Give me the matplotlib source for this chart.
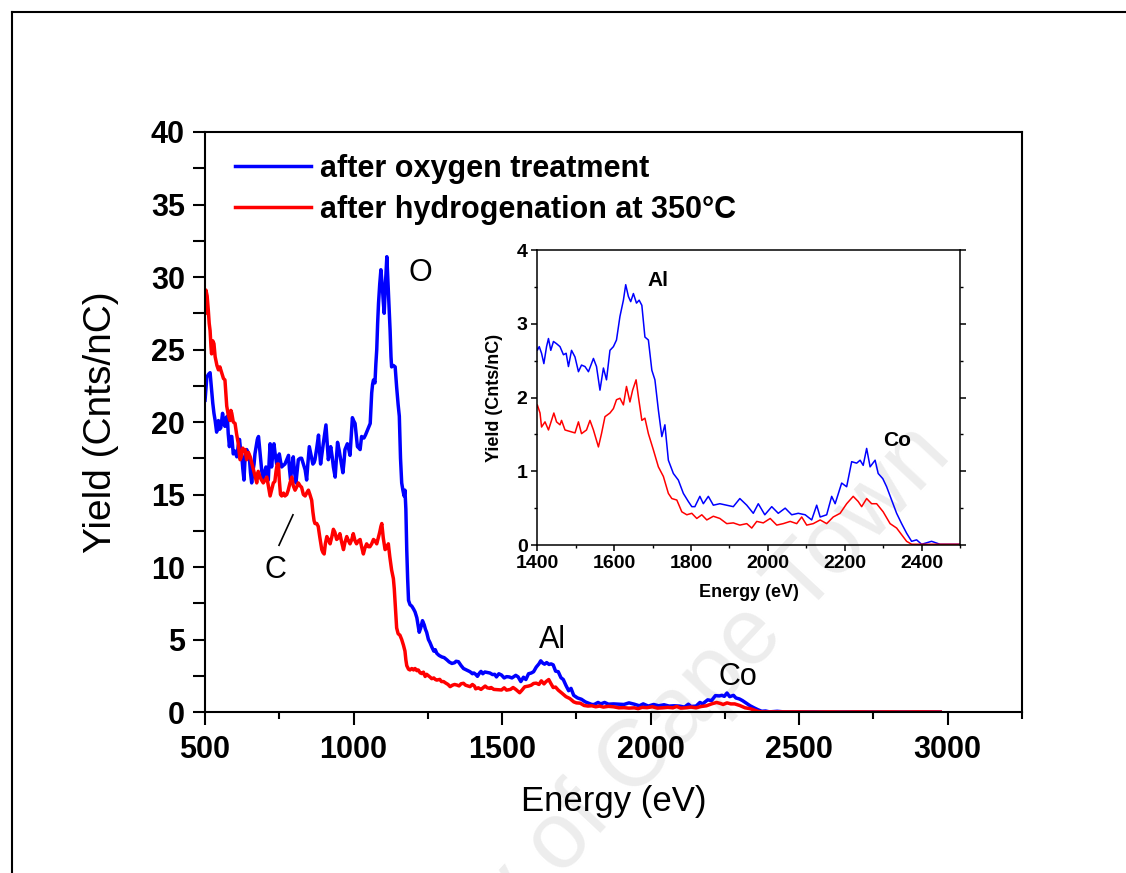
import matplotlib
matplotlib.use("Agg")
import matplotlib.pyplot as plt
from matplotlib.lines import Line2D
from matplotlib.ticker import MultipleLocator

plt.rcParams['font.family'] = ['Liberation Sans', 'DejaVu Sans']

# after oxygen treatment (blue)
e_oxy = [500, 506, 512, 517, 522, 526, 530, 534, 539, 545, 549, 553, 559, 563, 567, 571, 575, 578, 582, 586,
         590, 595, 600, 607, 612, 616, 620, 623, 627, 631, 635, 640, 645, 649, 653, 657, 661, 665, 668, 672,
         676, 680, 684, 687, 691, 696, 700, 705, 709, 713, 716, 719, 722, 724, 728, 732, 736, 741, 745, 750,
         754, 758, 763, 769, 775, 781, 784, 788, 792, 797, 801, 806, 810, 814, 820, 825, 831, 837, 842, 846,
         851, 857, 863, 867, 870, 876, 882, 885, 889, 894, 898, 903, 907, 911, 915, 919, 923, 928, 932, 938,
         942, 946, 951, 955, 960, 964, 968, 971, 975, 979, 984, 988, 992, 996, 1000, 1005, 1009, 1013, 1018, 1022,
         1027, 1031, 1035, 1040, 1044, 1050, 1056, 1061, 1064, 1067, 1072, 1075, 1078, 1081, 1084, 1088, 1092, 1097, 1100, 1103,
         1108, 1112, 1115, 1117, 1120, 1123, 1126, 1128, 1134, 1140, 1145, 1150, 1154, 1158, 1162, 1166, 1170, 1173, 1176, 1179,
         1182, 1185, 1190, 1196, 1202, 1207, 1213, 1217, 1221, 1226, 1232, 1238, 1242, 1246, 1252, 1257, 1263, 1270, 1275, 1280,
         1288, 1297, 1305, 1314, 1322, 1331, 1340, 1345, 1353, 1362, 1370, 1380, 1392,
         1400, 1405, 1411, 1417, 1424, 1429, 1435, 1442, 1450, 1459, 1468, 1475, 1481, 1489, 1498, 1507, 1515, 1524, 1533, 1546,
         1554, 1563, 1572, 1580, 1589, 1598, 1606, 1615, 1624, 1630, 1637, 1643, 1650, 1658, 1665, 1672, 1680, 1689, 1698, 1706,
         1715, 1724, 1732, 1741, 1754, 1767, 1780, 1793, 1802, 1810, 1823, 1832, 1845, 1858, 1875, 1893, 1910, 1927, 1945, 1962,
         1975, 1992, 2010, 2027, 2045, 2062, 2079, 2097, 2114, 2127, 2136, 2153, 2166, 2175, 2192, 2205, 2218, 2231, 2240, 2248,
         2257, 2266, 2279, 2287, 2299, 2309, 2322, 2335, 2348, 2361, 2374, 2387, 2400, 2426, 2448, 2500,
         2550, 2600, 2700, 2800, 2900, 2975]
y_oxy = [21.5, 23.1, 23.3, 23.4, 22.2, 21.3, 20.6, 20.1, 19.3, 20.1, 19.5, 19.6, 20.6, 19.9, 19.7, 20.3, 20.4, 19.2, 18.3, 19.0,
         19.0, 17.8, 18.0, 17.6, 18.4, 18.8, 18.0, 17.8, 16.8, 16.0, 17.6, 18.1, 17.9, 17.6, 16.5, 15.8, 16.6, 17.1, 17.8, 18.3,
         18.8, 19.0, 18.1, 17.4, 16.6, 16.0, 16.5, 16.9, 16.5, 16.0, 17.4, 18.5, 17.6, 16.9, 17.8, 18.5, 17.8, 17.1, 17.4, 17.8,
         17.3, 16.9, 17.0, 17.1, 17.4, 17.7, 16.8, 16.0, 16.9, 17.6, 16.6, 15.8, 16.6, 17.4, 17.5, 17.5, 17.1, 16.7, 16.0, 17.1,
         18.3, 17.7, 17.1, 17.2, 17.4, 18.2, 19.1, 18.1, 17.1, 17.9, 18.5, 19.2, 19.8, 18.6, 17.4, 17.8, 18.3, 17.6, 16.9, 16.2,
         17.4, 18.6, 18.1, 17.6, 17.0, 16.5, 17.3, 18.1, 18.3, 18.5, 18.1, 17.7, 19.0, 20.3, 20.1, 19.9, 19.1, 18.3, 18.2, 18.1,
         19.0, 18.9, 18.9, 19.1, 19.3, 19.6, 19.9, 22.0, 22.6, 22.9, 22.7, 24.0, 25.0, 26.8, 28.2, 29.5, 30.5, 29.3, 28.3, 27.5,
         29.8, 31.4, 30.0, 29.1, 27.5, 26.3, 24.5, 23.8, 23.9, 23.8, 22.4, 21.2, 20.4, 17.5, 15.8, 15.3, 14.9, 15.3, 14.0, 11.2,
         9.2, 7.7, 7.4, 7.3, 7.1, 6.9, 6.5, 6.0, 5.5, 5.8, 6.3, 6.0, 5.7, 5.5, 5.0, 4.8, 4.5, 4.2, 4.3, 4.05,
         3.9, 3.8, 3.75, 3.6, 3.45, 3.35, 3.4, 3.5, 3.47, 3.2, 3.0, 2.9, 2.78,
         2.64, 2.69, 2.60, 2.46, 2.69, 2.80, 2.64, 2.76, 2.73, 2.69, 2.58, 2.60, 2.42, 2.64, 2.55, 2.35, 2.44, 2.42, 2.35, 2.53,
         2.42, 2.10, 2.40, 2.24, 2.64, 2.69, 2.78, 3.10, 3.32, 3.53, 3.37, 3.30, 3.41, 3.28, 3.32, 3.25, 2.82, 2.78, 2.37, 2.24,
         1.83, 1.47, 1.63, 1.15, 0.97, 0.88, 0.70, 0.59, 0.52, 0.52, 0.66, 0.56, 0.66, 0.54, 0.56, 0.54, 0.52, 0.63, 0.54, 0.43,
         0.56, 0.41, 0.52, 0.43, 0.50, 0.41, 0.43, 0.41, 0.34, 0.54, 0.38, 0.41, 0.66, 0.56, 0.84, 0.79, 1.13, 1.11, 1.15, 1.08,
         1.31, 1.06, 1.15, 0.97, 0.90, 0.79, 0.61, 0.43, 0.29, 0.16, 0.05, 0.07, 0.01, 0.05, 0.01, 0.01,
         0.01, 0.0, 0.01, 0.0, 0.0, 0.0]

# after hydrogenation at 350 C (red)
e_hyd = [500, 503, 507, 511, 514, 517, 520, 522, 526, 530, 534, 540, 545, 550, 556, 562, 567, 570, 573, 578,
         584, 587, 590, 595, 601, 606, 612, 615, 618, 622, 627, 631, 635, 640, 646, 652, 657, 663, 668, 674,
         679, 685, 690, 696, 702, 708, 713, 719, 724, 730, 735, 739, 743, 747, 750, 754, 758, 764, 769, 775,
         780, 786, 792, 797, 803, 808, 814, 820, 825, 831, 837, 842, 848, 853, 859, 863, 867, 870, 876, 881,
         886, 893, 897, 901, 905, 910, 915, 921, 927, 932, 937, 943, 948, 954, 960, 966, 971, 977, 983, 988,
         994, 999, 1005, 1010, 1016, 1022, 1027, 1033, 1038, 1044, 1050, 1055, 1061, 1067, 1072, 1078, 1083, 1088, 1092, 1095,
         1100, 1106, 1111, 1117, 1122, 1128, 1134, 1137, 1140, 1145, 1150, 1156, 1162, 1168, 1173, 1176, 1179, 1185, 1190, 1196,
         1202, 1207, 1213, 1218, 1224, 1230, 1235, 1241, 1246, 1252, 1258, 1263, 1270, 1275, 1280, 1290, 1296, 1303, 1310, 1318,
         1325, 1333, 1340, 1348, 1355, 1362, 1370, 1377, 1385, 1392,
         1400, 1407, 1411, 1420, 1429, 1437, 1443, 1450, 1459, 1463, 1472, 1485, 1498, 1507, 1515, 1528, 1537, 1546, 1559, 1567,
         1576, 1589, 1598, 1606, 1615, 1624, 1632, 1641, 1648, 1657, 1663, 1672, 1680, 1689, 1702, 1715, 1728, 1741, 1750, 1763,
         1776, 1789, 1802, 1815, 1828, 1841, 1858, 1875, 1893, 1910, 1927, 1945, 1958, 1971, 1988, 2006, 2023, 2040, 2058, 2075,
         2088, 2101, 2118, 2136, 2153, 2170, 2188, 2205, 2222, 2235, 2244, 2257, 2270, 2283, 2300, 2318, 2335, 2348, 2361, 2374,
         2396, 2500, 2550, 2600, 2650, 2700, 2750, 2800, 2850, 2900, 2975]
y_hyd = [27.5, 29.1, 28.7, 27.7, 26.8, 26.3, 25.2, 24.7, 25.6, 25.4, 24.5, 23.9, 23.6, 23.8, 23.4, 23.0, 22.9, 22.0, 21.1, 20.5,
         20.1, 20.8, 20.6, 20.0, 19.9, 19.2, 18.5, 17.9, 17.4, 17.6, 18.2, 18.0, 18.1, 17.4, 17.9, 17.6, 17.2, 16.7, 16.3, 15.8,
         16.6, 16.2, 16.0, 15.8, 16.0, 16.2, 15.6, 14.9, 15.3, 15.8, 15.9, 16.6, 17.1, 17.1, 16.0, 15.0, 14.9, 15.1, 14.9, 15.0,
         15.3, 15.8, 16.2, 15.6, 15.3, 15.5, 15.8, 15.6, 15.5, 15.0, 14.9, 15.1, 15.3, 15.0, 14.6, 13.8, 13.2, 13.0, 13.0, 12.8,
         12.1, 11.2, 11.0, 10.9, 11.6, 12.1, 11.9, 11.6, 12.1, 12.6, 12.4, 11.9, 12.0, 12.3, 11.7, 11.2, 11.7, 12.1, 11.8, 11.6,
         11.9, 12.3, 11.8, 11.6, 11.8, 11.9, 11.4, 10.9, 11.3, 11.6, 11.4, 11.4, 11.6, 11.9, 11.8, 11.6, 12.0, 12.4, 12.8, 13.0,
         12.0, 11.2, 11.3, 11.6, 10.7, 9.8, 9.2, 8.5, 7.5, 5.8, 5.4, 5.3, 5.0, 4.6, 4.2, 3.6, 3.2, 2.95, 2.9, 3.0,
         2.9, 3.0, 2.85, 2.9, 2.7, 2.65, 2.75, 2.45, 2.6, 2.5, 2.4, 2.3, 2.35, 2.25, 2.2, 2.25, 2.1, 2.1, 2.0, 1.9,
         1.75, 1.85, 1.9, 1.86, 1.8, 1.95, 1.98, 1.85, 1.8, 1.75,
         1.90, 1.79, 1.60, 1.67, 1.56, 1.69, 1.79, 1.67, 1.63, 1.69, 1.56, 1.54, 1.52, 1.67, 1.51, 1.56, 1.69, 1.56, 1.33, 1.51,
         1.74, 1.79, 1.85, 1.97, 1.99, 1.90, 2.15, 1.94, 2.10, 2.24, 2.01, 1.69, 1.72, 1.51, 1.29, 1.06, 0.93, 0.70, 0.63, 0.61,
         0.45, 0.41, 0.43, 0.36, 0.41, 0.34, 0.39, 0.36, 0.29, 0.30, 0.27, 0.29, 0.23, 0.32, 0.30, 0.36, 0.27, 0.29, 0.32, 0.29,
         0.38, 0.27, 0.29, 0.34, 0.29, 0.38, 0.43, 0.56, 0.66, 0.59, 0.52, 0.63, 0.56, 0.56, 0.45, 0.29, 0.23, 0.14, 0.05, 0.01,
         0.01, 0.01, 0.0, 0.01, 0.0, 0.01, 0.0, 0.01, 0.0, 0.01, 0.0]

labels = ['after oxygen treatment', 'after hydrogenation at 350\u00b0C']

fig = plt.figure(figsize=(11.26, 8.73), dpi=100)

# page frame + faint watermark behind everything
fig.add_artist(Line2D([12/1126, 1], [1 - 12/873, 1 - 12/873], color='black', lw=1.5))
fig.add_artist(Line2D([12/1126, 12/1126], [0, 1 - 12/873], color='black', lw=1.5))
fig.text(935/1126, 1 - 440/873, 'University of Cape Town', fontsize=68, color='#ededed',
         rotation=47, rotation_mode='anchor', ha='right', va='center', zorder=-5)

ax = fig.add_axes([0.1821, 0.1844, 0.7255, 0.6644])
ax.patch.set_alpha(0)
ax.plot(e_oxy, y_oxy, color='#0000ff', lw=2.5, label=labels[0])
ax.plot(e_hyd, y_hyd, color='#ff0000', lw=2.5, label=labels[1])
ax.set_xlim(500, 3250)
ax.set_ylim(0, 40)
ax.xaxis.set_major_locator(MultipleLocator(500))
ax.xaxis.set_minor_locator(MultipleLocator(250))
ax.yaxis.set_major_locator(MultipleLocator(5))
ax.yaxis.set_minor_locator(MultipleLocator(2.5))
ax.tick_params(axis='x', which='major', direction='out', length=9.5, width=1.5, pad=7)
ax.tick_params(axis='x', which='minor', direction='out', length=4.7, width=1.5)
ax.tick_params(axis='y', which='both', direction='out', length=8.6, width=1.5, pad=6)
for lab in ax.get_xticklabels() + ax.get_yticklabels():
    lab.set_fontsize(22)
    lab.set_fontweight('bold')
for s in ax.spines.values():
    s.set_linewidth(1.5)
ax.set_xlabel('Energy (eV)', fontsize=25)
ax.set_ylabel('Yield (Cnts/nC)', fontsize=28)
ax.xaxis.set_label_coords(0.5, -0.125)
ax.yaxis.set_label_coords(-0.105, 0.5)

ax.text(1224, 30.3, 'O', fontsize=22, ha='center', va='center')
ax.text(736, 9.8, 'C', fontsize=22, ha='center', va='center')
ax.plot([796, 749], [13.6, 11.5], color='black', lw=1.2)
ax.text(1668, 5.0, 'Al', fontsize=22, ha='center', va='center')
ax.text(2295, 2.4, 'Co', fontsize=22, ha='center', va='center')

ax.legend(loc='upper left', bbox_to_anchor=(0.01, 0.999), frameon=False,
          prop={'size': 22, 'weight': 'bold'}, handlelength=2.5, handletextpad=0.3,
          labelspacing=0.36, borderaxespad=0.3)

# inset
ins = fig.add_axes([0.4772, 0.3757, 0.3754, 0.3379])
ins.patch.set_alpha(0)
ins.plot(e_oxy, y_oxy, color='#0000ff', lw=1.1)
ins.plot(e_hyd, y_hyd, color='#ff0000', lw=1.1)
ins.set_xlim(1400, 2500)
ins.set_ylim(0, 4)
ins.xaxis.set_major_locator(MultipleLocator(200))
ins.xaxis.set_minor_locator(MultipleLocator(100))
ins.yaxis.set_major_locator(MultipleLocator(1))
ins.yaxis.set_minor_locator(MultipleLocator(0.5))
ins.tick_params(which='major', direction='out', length=4, width=1.1, pad=3)
ins.tick_params(which='minor', direction='out', length=2.2, width=1.0)
ins.tick_params(which='both', top=False, right=True)
ins.tick_params(axis='y', which='both', right=True, direction='in')
ins.tick_params(axis='y', which='both', left=True, direction='out')
for lab in ins.get_xticklabels() + ins.get_yticklabels():
    lab.set_fontsize(14)
    lab.set_fontweight('bold')
for s in ins.spines.values():
    s.set_linewidth(1.1)
ins.set_xlabel('Energy (eV)', fontsize=13, fontweight='bold', labelpad=9)
ins.set_ylabel('Yield (Cnts/nC)', fontsize=13, fontweight='bold', labelpad=10)
ins.text(1714, 3.59, 'Al', fontsize=15, fontweight='bold', ha='center', va='center')
ins.text(2336, 1.42, 'Co', fontsize=15, fontweight='bold', ha='center', va='center')

fig.savefig('out.png', dpi=100)
